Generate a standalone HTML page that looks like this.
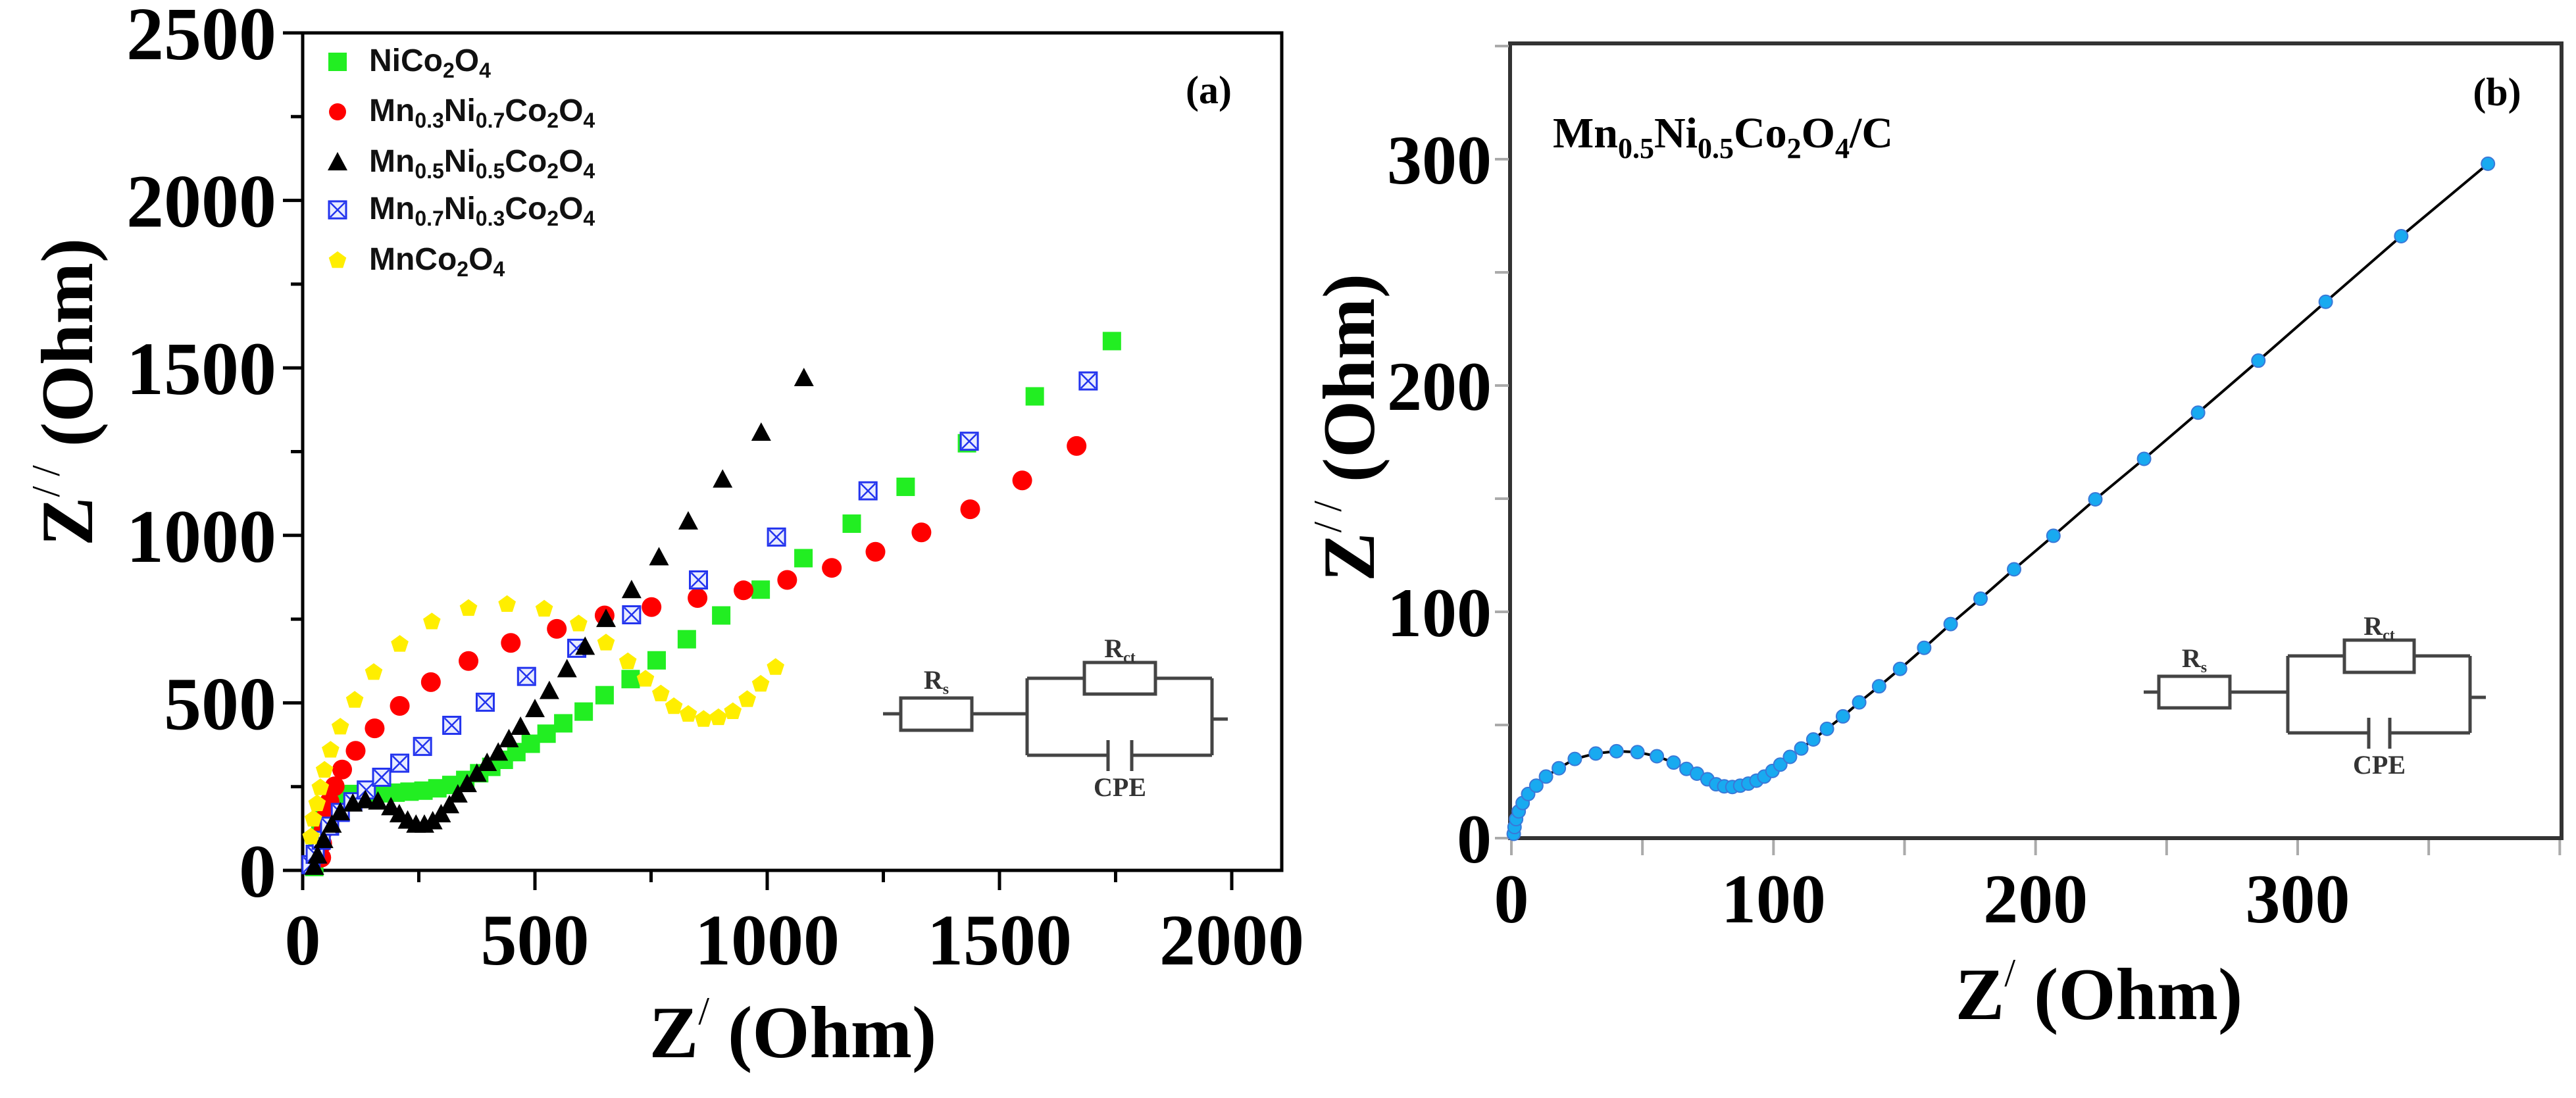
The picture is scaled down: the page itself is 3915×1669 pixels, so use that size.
<!DOCTYPE html>
<html><head><meta charset="utf-8">
<style>
html,body{margin:0;padding:0;background:#fff;}
svg{display:block;}
.tick{font-family:"Liberation Serif",serif;font-weight:bold;}
.leg{font-family:"Liberation Sans",sans-serif;font-weight:bold;font-size:48px;fill:#111;}
</style></head>
<body>
<svg id="fig" width="3915" height="1669" viewBox="0 0 3915 1669" xmlns="http://www.w3.org/2000/svg">
<g id="pa"></g>
<g id="pb"></g>
</svg>
<script>
// ---------- Panel (a) data ----------
const aXTicks = [0, 500, 1000, 1500, 2000];
const aYTicks = [0, 500, 1000, 1500, 2000, 2500];
const aSeriesNames = ["NiCo2O4", "Mn0.3Ni0.7Co2O4", "Mn0.5Ni0.5Co2O4", "Mn0.7Ni0.3Co2O4", "MnCo2O4"];
const niX = [25,28,32,38,45,55,70,90,110,140,170,200,230,260,290,320,350,380,406,433,460,491,525,561,605,650,706,762,827,901,986,1078,1182,1298,1430,1576,1742];
const niY = [10,40,80,120,160,190,215,225,228,230,230,232,235,238,245,255,270,290,309,330,353,378,408,439,474,523,571,627,690,761,838,932,1035,1145,1275,1415,1580];
const mn3X = [40,42,45,51,58,69,85,114,155,209,276,357,448,547,650,751,850,949,1043,1139,1233,1332,1437,1549,1666];
const mn3Y = [38,80,121,163,205,251,301,357,424,491,562,625,679,721,761,786,813,836,867,903,951,1009,1078,1164,1267];
const mn5X = [25,32,45,63,81,108,135,162,190,208,226,244,262,280,298,316,334,354,375,397,421,444,469,500,531,569,608,653,708,767,830,904,987,1079];
const mn5Y = [10,44,90,136,173,199,209,205,188,167,148,136,136,146,167,194,226,257,288,320,351,391,428,481,535,600,667,750,836,934,1041,1166,1306,1469];
const mn7X = [18,27,40,58,81,108,137,170,209,258,321,393,482,590,708,852,1020,1217,1435,1691];
const mn7Y = [17,48,90,132,173,205,240,278,320,370,433,502,579,663,763,867,995,1133,1281,1461];
const mncX = [18,23,31,38,47,60,81,112,153,209,278,357,440,520,594,653,700,738,771,799,830,863,895,926,957,986,1018];
const mncY = [100,153,199,247,299,359,428,508,591,675,742,782,794,780,736,679,623,571,527,489,466,451,456,474,510,556,606];

// ---------- Panel (b) data ----------
const bXTicks = [0, 100, 200, 300];
const bYTicks = [0, 100, 200, 300];
const bX = [0.9,1.2,1.8,2.8,4.3,6.4,9.5,13.2,18.1,24.2,32.2,40.1,48.1,55.5,61.9,66.8,70.8,74.8,78.1,81.2,84.3,87.3,90.4,93.5,96.5,99.6,102.6,106.3,110.6,115.2,120.4,126.5,132.7,140.3,148.3,157.5,167.6,179,191.8,206.8,222.8,241.4,262,285,310.7,339.5,372.6];
const bY = [1.9,4.9,8.4,11.8,15.5,19.5,23.2,27.2,30.9,35,37.4,38.4,38,36.2,33.4,30.6,28.5,26,23.8,22.9,22.6,23.2,24.1,25.4,27.2,29.7,32.5,35.9,39.6,43.6,48.3,53.8,60,67.1,74.8,84.1,94.6,105.8,118.8,133.6,149.7,167.6,188,211,237,266,298];

const NS = "http://www.w3.org/2000/svg";
function mk(parent, tag, attrs, text) {
  const e = document.createElementNS(NS, tag);
  for (const k in attrs) e.setAttribute(k, attrs[k]);
  if (text !== undefined) e.textContent = text;
  parent.appendChild(e);
  return e;
}

// ================= Panel A =================
const pa = document.getElementById('pa');
const aX = v => 460 + v * (1872 - 460) / 2000;
const aY = v => 1323 - v * (1323 - 50) / 2500;

let fr = mk(pa, 'rect', {x:460, y:50, width:1488, height:1273, fill:'none', stroke:'#000', 'stroke-width':5});


for (let v = 0; v <= 2000; v += 250) {
  const major = v % 500 === 0;
  const t = mk(pa, 'line', {x1:aX(v), x2:aX(v), y1:1323, y2:1323 + (major ? 30 : 18), stroke:'#000', 'stroke-width':5});
  
  
}
for (let v = 0; v <= 2500; v += 250) {
  const major = v % 500 === 0;
  const t = mk(pa, 'line', {x1:460 - (major ? 30 : 18), x2:460, y1:aY(v), y2:aY(v), stroke:'#000', 'stroke-width':5});
  
  
}
aXTicks.forEach(v => {
  const t = mk(pa, 'text', {x:aX(v), y:1466, 'text-anchor':'middle', 'font-size':110, class:'tick'}, String(v));
  
  
});
aYTicks.forEach(v => {
  const t = mk(pa, 'text', {x:420, y:aY(v) + 40, 'text-anchor':'end', 'font-size':114, class:'tick'}, String(v));
  
  
});

function square(g, x, y, c) { return mk(g, 'rect', {x:x-14, y:y-14, width:28, height:28, fill:c}); }
function circle(g, x, y, c, r) { return mk(g, 'circle', {cx:x, cy:y, r:r, fill:c}); }
function tri(g, x, y) { return mk(g, 'polygon', {points:`${x},${y-16} ${x-15},${y+12} ${x+15},${y+12}`, fill:'#000'}); }
function xbox(g, x, y) {
  const gg = mk(g, 'g', {});
  mk(gg, 'rect', {x:x-13, y:y-13, width:26, height:26, fill:'#e8ecff', stroke:'#2233ee', 'stroke-width':3});
  mk(gg, 'path', {d:`M${x-11} ${y-11}L${x+11} ${y+11}M${x+11} ${y-11}L${x-11} ${y+11}`, stroke:'#2233ee', 'stroke-width':2.5});
  return gg;
}
function penta(g, x, y) {
  let p = [];
  for (let i = 0; i < 5; i++) { const a = -Math.PI/2 + i*2*Math.PI/5; p.push((x + 14*Math.cos(a)).toFixed(1) + ',' + (y + 14*Math.sin(a)).toFixed(1)); }
  return mk(g, 'polygon', {points:p.join(' '), fill:'#ffee00'});
}

const gNi = mk(pa, 'g', {});


const gM3 = mk(pa, 'g', {});


const gM7 = mk(pa, 'g', {});


const gM5 = mk(pa, 'g', {});


const gMc = mk(pa, 'g', {});



mncX.forEach((v, i) => penta(gMc, aX(v), aY(mncY[i])));
mn3X.forEach((v, i) => circle(gM3, aX(v), aY(mn3Y[i]), '#ff0000', 15));
niX.forEach((v, i) => square(gNi, aX(v), aY(niY[i]), '#22ee22'));
mn5X.forEach((v, i) => tri(gM5, aX(v), aY(mn5Y[i])));
mn7X.forEach((v, i) => xbox(gM7, aX(v), aY(mn7Y[i])));

const legRows = [94, 170, 247, 319, 396];
const lg = mk(pa, 'g', {});


square(lg, 513, legRows[0], '#22ee22');
circle(lg, 513, legRows[1], '#ff0000', 13);
tri(lg, 513, legRows[2]);
xbox(lg, 513, legRows[3]);
penta(lg, 513, legRows[4]);
const legHtml = [
  'NiCo<tspan font-size="32" dy="10">2</tspan><tspan dy="-10">O</tspan><tspan font-size="32" dy="10">4</tspan>',
  'Mn<tspan font-size="32" dy="10">0.3</tspan><tspan dy="-10">Ni</tspan><tspan font-size="32" dy="10">0.7</tspan><tspan dy="-10">Co</tspan><tspan font-size="32" dy="10">2</tspan><tspan dy="-10">O</tspan><tspan font-size="32" dy="10">4</tspan>',
  'Mn<tspan font-size="32" dy="10">0.5</tspan><tspan dy="-10">Ni</tspan><tspan font-size="32" dy="10">0.5</tspan><tspan dy="-10">Co</tspan><tspan font-size="32" dy="10">2</tspan><tspan dy="-10">O</tspan><tspan font-size="32" dy="10">4</tspan>',
  'Mn<tspan font-size="32" dy="10">0.7</tspan><tspan dy="-10">Ni</tspan><tspan font-size="32" dy="10">0.3</tspan><tspan dy="-10">Co</tspan><tspan font-size="32" dy="10">2</tspan><tspan dy="-10">O</tspan><tspan font-size="32" dy="10">4</tspan>',
  'MnCo<tspan font-size="32" dy="10">2</tspan><tspan dy="-10">O</tspan><tspan font-size="32" dy="10">4</tspan>'
];
legHtml.forEach((h, i) => {
  const t = mk(lg, 'text', {x:561, y:legRows[i] + 14, class:'leg'});
  t.innerHTML = h;
  
  
});

// ================= Panel B =================
const pb = document.getElementById('pb');
const bXf = v => 2297 + v * (3492 - 2297) / 300;
const bYf = v => 1274 - v * (1274 - 242) / 300;

let frb = mk(pb, 'rect', {x:2295, y:66, width:1598, height:1208, fill:'none', stroke:'#333', 'stroke-width':6});


for (let v = 0; v <= 400; v += 50) {
  const t = mk(pb, 'line', {x1:bXf(v), x2:bXf(v), y1:1277, y2:1300, stroke:'#aaa', 'stroke-width':4});
  
  
}
for (let v = 0; v <= 350; v += 50) {
  const t = mk(pb, 'line', {x1:2272, x2:2293, y1:bYf(v), y2:bYf(v), stroke:'#aaa', 'stroke-width':4});
  
  
}
bXTicks.forEach(v => {
  const t = mk(pb, 'text', {x:bXf(v), y:1402, 'text-anchor':'middle', 'font-size':106, class:'tick'}, String(v));
  
  
});
bYTicks.forEach(v => {
  const t = mk(pb, 'text', {x:2267, y:bYf(v) + 37, 'text-anchor':'end', 'font-size':106, class:'tick'}, String(v));
  
  
});

const gB = mk(pb, 'g', {});


const pts = bX.map((v, i) => bXf(v).toFixed(1) + ',' + bYf(bY[i]).toFixed(1)).join(' ');
const ln = mk(gB, 'polyline', {points:pts, fill:'none', stroke:'#000', 'stroke-width':4});


bX.forEach((v, i) => mk(gB, 'circle', {cx:bXf(v), cy:bYf(bY[i]), r:10, fill:'#18aaf0', stroke:'#3a78d8', 'stroke-width':2}));

function circuit(parent, o, name) {
  const g = mk(parent, 'g', {fill:'none', stroke:'#444', 'stroke-width':5});
  
  
  mk(g, 'line', {x1:o.l0, x2:o.rs0, y1:o.ly, y2:o.ly});
  mk(g, 'rect', {x:o.rs0, y:o.rsT, width:o.rs1 - o.rs0, height:o.rsB - o.rsT});
  mk(g, 'line', {x1:o.rs1, x2:o.pl, y1:o.ly, y2:o.ly});
  mk(g, 'line', {x1:o.pl, x2:o.pl, y1:o.top, y2:o.bot});
  mk(g, 'line', {x1:o.pr, x2:o.pr, y1:o.top, y2:o.bot});
  mk(g, 'line', {x1:o.pl, x2:o.rc0, y1:o.top, y2:o.top});
  mk(g, 'rect', {x:o.rc0, y:o.rcT, width:o.rc1 - o.rc0, height:o.rcB - o.rcT});
  mk(g, 'line', {x1:o.rc1, x2:o.pr, y1:o.top, y2:o.top});
  mk(g, 'line', {x1:o.pl, x2:o.c0, y1:o.bot, y2:o.bot});
  mk(g, 'line', {x1:o.c1, x2:o.pr, y1:o.bot, y2:o.bot});
  mk(g, 'line', {x1:o.c0, x2:o.c0, y1:o.bot - 23, y2:o.bot + 24});
  mk(g, 'line', {x1:o.c1, x2:o.c1, y1:o.bot - 23, y2:o.bot + 24});
  mk(g, 'line', {x1:o.pr, x2:o.stub, y1:o.sy, y2:o.sy});
  const tf = {fill:'#333', stroke:'none', 'font-family':'Liberation Serif, serif', 'font-weight':'bold', 'font-size':40, 'text-anchor':'middle'};
  const t1 = mk(g, 'text', Object.assign({}, tf, {x:(o.rs0 + o.rs1) / 2, y:o.rsT - 14}));
  t1.innerHTML = 'R<tspan font-size="24" dy="8">s</tspan>';
  const t2 = mk(g, 'text', Object.assign({}, tf, {x:(o.rc0 + o.rc1) / 2, y:o.rcT - 8}));
  t2.innerHTML = 'R<tspan font-size="24" dy="8">ct</tspan>';
  mk(g, 'text', Object.assign({}, tf, {x:(o.c0 + o.c1) / 2, y:o.bot + 62}), 'CPE');
}
circuit(pa, {l0:1342, rs0:1369, rs1:1477, rsT:1061, rsB:1110, ly:1085, pl:1561, pr:1842, top:1031, bot:1148,
  rc0:1648, rc1:1756, rcT:1007, rcB:1055, c0:1684, c1:1720, stub:1866, sy:1093}, 'circuit-inset-a');
circuit(pb, {l0:3258, rs0:3281, rs1:3389, rsT:1028, rsB:1076, ly:1052, pl:3477, pr:3754, top:997, bot:1114,
  rc0:3563, rc1:3669, rcT:973, rcB:1022, c0:3600, c1:3632, stub:3778, sy:1060}, 'circuit-inset-b');
</script>

<svg style="position:absolute;left:0;top:0" width="3915" height="1669" xmlns="http://www.w3.org/2000/svg">
  <g font-family="Liberation Serif, serif" font-weight="bold" fill="#000">
    <text x="1205" y="1607" font-size="112" text-anchor="middle">Z<tspan font-size="60" dy="-50" font-weight="normal">/</tspan><tspan dy="50"> (Ohm)</tspan></text>
    <text transform="translate(140,596) rotate(-90)" font-size="112" text-anchor="middle">Z<tspan font-size="60" dy="-50" font-weight="normal">/ /</tspan><tspan dy="50"> (Ohm)</tspan></text>
    <text x="1837" y="157" font-size="60" text-anchor="middle">(a)</text>
    <text x="3190" y="1549" font-size="112" text-anchor="middle">Z<tspan font-size="60" dy="-50" font-weight="normal">/</tspan><tspan dy="50"> (Ohm)</tspan></text>
    <text transform="translate(2088,650) rotate(-90)" font-size="112" text-anchor="middle">Z<tspan font-size="60" dy="-50" font-weight="normal">/ /</tspan><tspan dy="50"> (Ohm)</tspan></text>
    <text x="3795" y="160" font-size="60" text-anchor="middle">(b)</text>
    <text x="2360" y="224" font-size="66">Mn<tspan font-size="44" dy="16">0.5</tspan><tspan dy="-16">Ni</tspan><tspan font-size="44" dy="16">0.5</tspan><tspan dy="-16">Co</tspan><tspan font-size="44" dy="16">2</tspan><tspan dy="-16">O</tspan><tspan font-size="44" dy="16">4</tspan><tspan dy="-16">/C</tspan></text>
  </g>
</svg>
</body></html>
